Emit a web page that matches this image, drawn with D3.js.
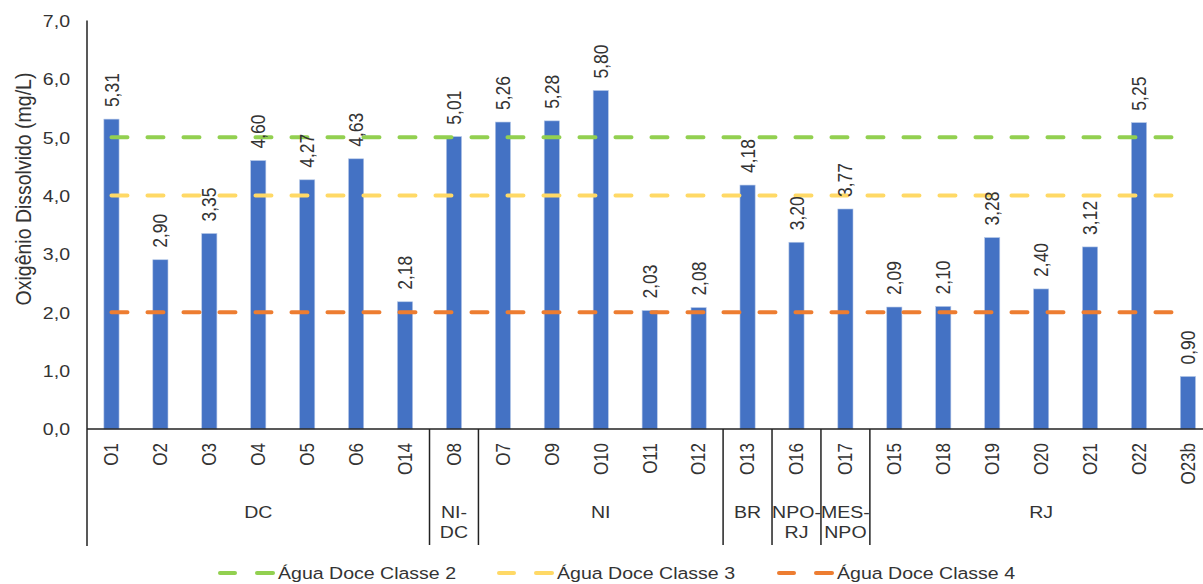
<!DOCTYPE html>
<html>
<head>
<meta charset="utf-8">
<script src="https://cdn.jsdelivr.net/npm/d3@7"></script>
<style>
  html, body { margin: 0; padding: 0; background: #fff; }
  svg { display: block; font-family: "Liberation Sans", Arial, sans-serif; }
  text { fill: #333; }
</style>
</head>
<body>
<svg id="chart" width="1203" height="584"></svg>
<script>
// ---- data ----
const categories = ["O1","O2","O3","O4","O5","O6","O14","O8","O7","O9","O10","O11","O12","O13","O16","O17","O15","O18","O19","O20","O21","O22","O23b"];
const values = [5.31,2.90,3.35,4.60,4.27,4.63,2.18,5.01,5.26,5.28,5.80,2.03,2.08,4.18,3.20,3.77,2.09,2.10,3.28,2.40,3.12,5.25,0.90];
const groupNames = [["DC"],["NI-","DC"],["NI"],["BR"],["NPO-","RJ"],["MES-","NPO"],["RJ"]];
const groupSizes = [7,1,5,1,1,1,7];
const refNames = ["Água Doce Classe 2","Água Doce Classe 3","Água Doce Classe 4"];
const refValues = [5,4,2];
const yTicks = [0,1,2,3,4,5,6,7];
const yTitle = "Oxigênio Dissolvido (mg/L)";

// ---- layout ----
const svg = d3.select("#chart");
const left = 87, step = 48.93;
const right = left + step * categories.length;
const y0 = 429, yTop = 20.5, axisBottomEnd = 546;
const SX = 1.15; // horizontal glyph stretch
const refColors = ["#92D050","#FFD966","#ED7D31"];
const barColor = "#4472C4";
const fmt1 = v => d3.format(".1f")(v).replace(".", ",");
const fmt2 = v => d3.format(".2f")(v).replace(".", ",");

const x = d3.scaleBand().domain(categories).range([left, right]).paddingInner(0.69).paddingOuter(0.345);
const y = d3.scaleLinear().domain([0,7]).range([y0, yTop]);
const cx = c => x(c) + x.bandwidth()/2;

// bars
svg.append("g").selectAll("rect").data(categories).join("rect")
  .attr("x", d => x(d)).attr("width", x.bandwidth())
  .attr("y", (d,i) => y(values[i])).attr("height", (d,i) => y0 - y(values[i]))
  .attr("fill", barColor).attr("stroke", "#b4c7e7").attr("stroke-width", 0.6);

// reference lines
const line = d3.line().x(d => d[0]).y(d => d[1]);
refValues.forEach((v, k) => {
  svg.append("path")
    .attr("d", line([[cx(categories[0]), y(v)], [cx(categories[categories.length-1]), y(v)]]))
    .attr("stroke", refColors[k]).attr("stroke-width", 4)
    .attr("stroke-dasharray", "16,20").attr("stroke-linecap", "round").attr("fill", "none");
});

// y axis
const yAxis = svg.append("g").attr("transform", `translate(${left},0)`)
  .call(d3.axisLeft(y).tickValues(yTicks).tickFormat(fmt1).tickSize(0).tickPadding(0));
yAxis.select(".domain").remove();
yAxis.selectAll("text")
  .attr("x", -17 / SX).attr("dy", "0.35em")
  .attr("transform", `scale(${SX},1)`)
  .style("font-size", "17px").style("font-family", "Liberation Sans, Arial, sans-serif").attr("fill", "#333");

// axis lines
svg.append("line").attr("x1", left).attr("x2", left).attr("y1", yTop).attr("y2", axisBottomEnd)
  .attr("stroke", "#222").attr("stroke-width", 1.5);
svg.append("line").attr("x1", left).attr("x2", right).attr("y1", y0).attr("y2", y0)
  .attr("stroke", "#222").attr("stroke-width", 1.5);

// group separators and labels
let idx = 0;
groupSizes.forEach((n, g) => {
  const start = idx, end = idx + n;
  const xs = left + step * start;
  if (g > 0) {
    svg.append("line").attr("x1", xs).attr("x2", xs).attr("y1", y0).attr("y2", axisBottomEnd - 1)
      .attr("stroke", "#222").attr("stroke-width", 1.5);
  }
  const mid = (cx(categories[start]) + cx(categories[end-1])) / 2;
  groupNames[g].forEach((t, j) => {
    svg.append("text")
      .attr("transform", `translate(${mid},${512 + j*20}) scale(${SX},1)`)
      .attr("text-anchor", "middle").attr("dy", "0.35em")
      .style("font-size", "17px").text(t);
  });
  idx = end;
});

// category labels (rotated)
svg.append("g").selectAll("text").data(categories).join("text")
  .attr("transform", d => `translate(${cx(d)},443) scale(${SX},1) rotate(-90)`)
  .attr("text-anchor", "end").attr("dy", "0.35em")
  .style("font-size", "17px").text(d => d);

// value labels (rotated)
svg.append("g").selectAll("text").data(categories).join("text")
  .attr("transform", (d,i) => `translate(${cx(d)},${y(values[i]) - 12}) scale(${SX},1) rotate(-90)`)
  .attr("text-anchor", "start").attr("dy", "0.35em")
  .style("font-size", "17.5px").text((d,i) => fmt2(values[i]));

// y title
svg.append("text")
  .attr("transform", `translate(23,189) scale(${SX},1) rotate(-90)`)
  .attr("text-anchor", "middle").attr("dy", "0.35em")
  .style("font-size", "19.5px").text(yTitle);

// legend
const legendX = [218, 497, 777];
const legendY = 573;
refNames.forEach((name, k) => {
  const lx = legendX[k];
  [[0,19],[37,57]].forEach(seg => {
    svg.append("line").attr("x1", lx + seg[0] + 2).attr("x2", lx + seg[1] - 2)
      .attr("y1", legendY).attr("y2", legendY)
      .attr("stroke", refColors[k]).attr("stroke-width", 4).attr("stroke-linecap", "round");
  });
  svg.append("text")
    .attr("transform", `translate(${lx + 60},${legendY}) scale(${SX},1)`)
    .attr("dy", "0.35em").style("font-size", "17px").text(name);
});
</script>
</body>
</html>
